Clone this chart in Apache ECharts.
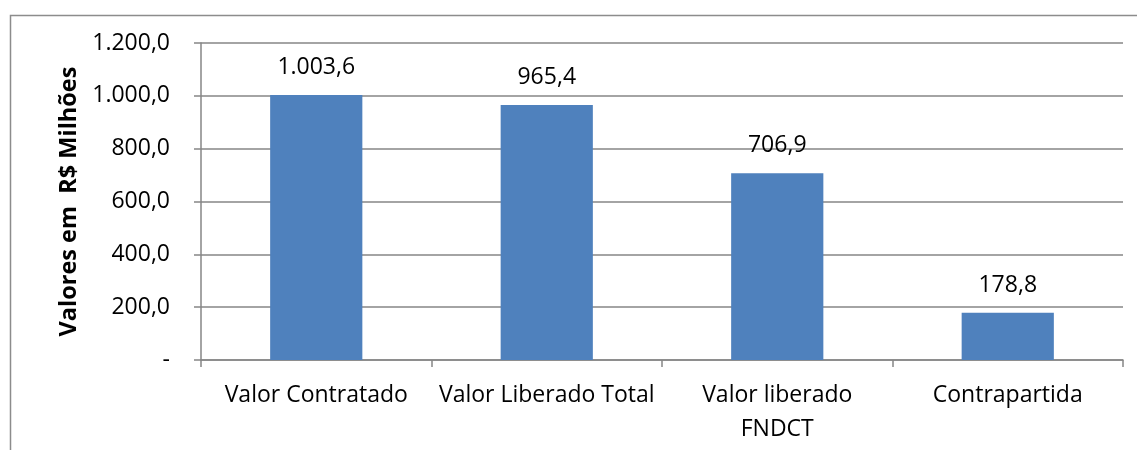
<!DOCTYPE html>
<html>
<head>
<meta charset="utf-8">
<script src="https://cdn.jsdelivr.net/npm/echarts@6/dist/echarts.min.js"></script>
<style>
  html, body { margin: 0; padding: 0; background: #fff; }
  #chart { width: 1137px; height: 450px; }
</style>
</head>
<body>
<div id="chart"></div>
<script>
// categorias e valores (R$ milhões)
const categories = ["Valor Contratado", "Valor Liberado Total", "Valor liberado\nFNDCT", "Contrapartida"];
const values = [1003.6, 965.4, 706.9, 178.8];
const yTicks = [0, 200, 400, 600, 800, 1000, 1200];

const font = "'Open Sans', sans-serif";

// formato pt-BR: 1.003,6 ; zero vira "-"
function fmt(v) {
  if (v === 0) return "-";
  let parts = v.toFixed(1).split(".");
  let int = parts[0].replace(/\B(?=(\d{3})+(?!\d))/g, ".");
  return int + "," + parts[1];
}

const chart = echarts.init(document.getElementById("chart"));
chart.setOption({
  backgroundColor: "#fff",
  animation: false,
  graphic: [
    {
      // moldura do gráfico
      type: "rect",
      left: 8,
      top: 13,
      shape: { width: 1200, height: 500 },
      style: { fill: "none", stroke: "#8c8c8c", lineWidth: 1.5 }
    }
  ],
  grid: {
    left: 201,
    right: 14,
    top: 43,
    bottom: 90
  },
  xAxis: {
    type: "category",
    data: categories,
    axisLine: { lineStyle: { color: "#868686", width: 1.5 } },
    axisTick: { show: true, alignWithLabel: false, length: 7, lineStyle: { color: "#868686", width: 1.5 } },
    axisLabel: {
      color: "#000",
      fontFamily: font,
      fontSize: 23,
      lineHeight: 34,
      margin: 18,
      interval: 0
    }
  },
  yAxis: {
    type: "value",
    min: yTicks[0],
    max: yTicks[yTicks.length - 1],
    interval: 200,
    name: "Valores em  R$ Milhões",
    nameLocation: "middle",
    nameGap: 119,
    nameTextStyle: { color: "#000", fontFamily: font, fontSize: 23.5, fontWeight: "bold" },
    axisLine: { show: true, lineStyle: { color: "#868686", width: 1.5 } },
    axisTick: { show: true, length: 7, lineStyle: { color: "#868686", width: 1.5 } },
    splitLine: { lineStyle: { color: "#868686", width: 1.5 } },
    axisLabel: {
      color: "#000",
      fontFamily: font,
      fontSize: 23,
      margin: 31,
      formatter: fmt
    }
  },
  series: [
    {
      type: "bar",
      data: values,
      barWidth: "40%",
      itemStyle: { color: "#4F81BD" },
      label: {
        show: true,
        position: "top",
        distance: 16,
        color: "#000",
        fontFamily: font,
        fontSize: 23,
        formatter: p => fmt(p.value)
      }
    }
  ]
});
</script>
</body>
</html>
